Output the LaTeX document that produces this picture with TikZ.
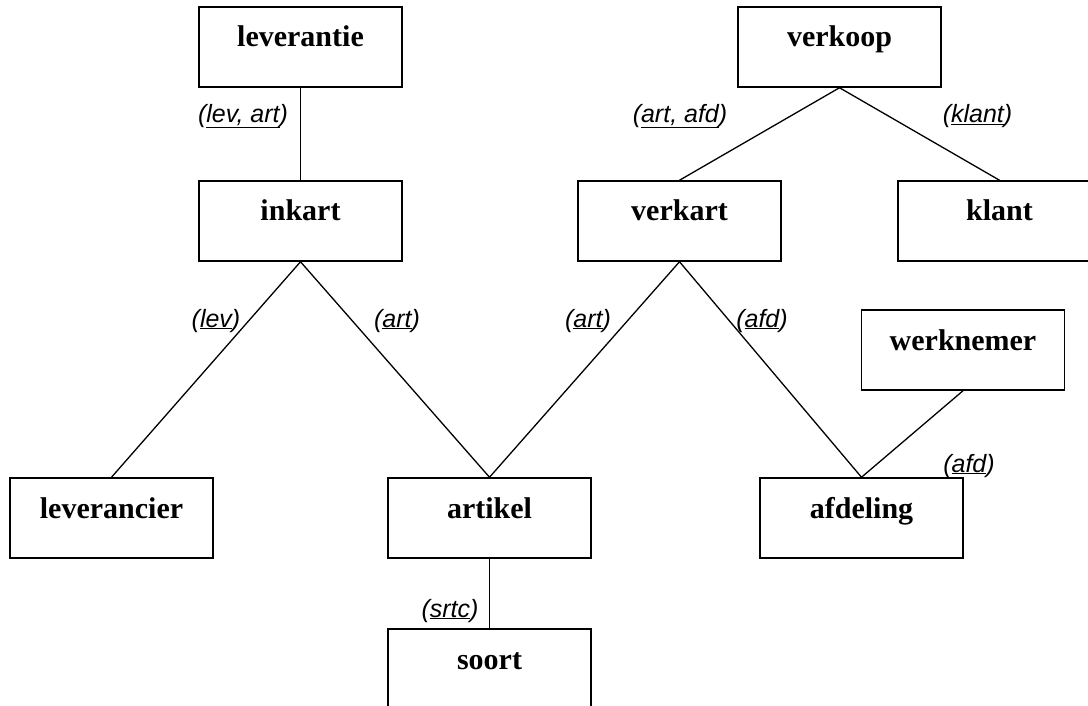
\documentclass[tikz,border=0pt]{standalone}
\usepackage{fontspec}
\setmainfont{Liberation Serif}
\newfontfamily\keyfont{Liberation Sans}
\usepackage{tikz}
\tikzset{
  entbox/.style={rectangle, draw=black, line width=1.5pt,
                 minimum width=203pt, minimum height=80pt, inner sep=0pt,
                 text height=12pt, text depth=12pt,
                 font=\fontsize{30}{36}\selectfont\bfseries},
  keylabel/.style={anchor=base, inner sep=0pt,
                   font=\keyfont\fontsize{25}{29}\selectfont\itshape},
  link/.style={line width=1.3pt, color=black}
}

\begin{document}
\begin{tikzpicture}[x=1pt, y=-1pt]
  \useasboundingbox (0,0) rectangle (1088,706);
  \clip (0,0) rectangle (1088,706);

  \node[entbox] (leverantie)  at (300.5,47)  {leverantie};
  \node[entbox] (verkoop)     at (839.5,47)  {verkoop};
  \node[entbox] (inkart)      at (300.5,221) {inkart};
  \node[entbox] (verkart)     at (679.5,221) {verkart};
  \node[entbox] (klant)       at (999.5,221) {klant};
  \node[entbox] (werknemer)   at (963,350)   {werknemer};
  \node[entbox] (leverancier) at (111.5,518) {leverancier};
  \node[entbox] (artikel)     at (489.5,518) {artikel};
  \node[entbox] (afdeling)    at (861.5,518) {afdeling};
  \node[entbox] (soort)       at (489.5,669) {soort};

  \draw[link] (leverantie.south) -- (inkart.north);
  \draw[link] (verkoop.south) -- (verkart.north);
  \draw[link] (verkoop.south) -- (klant.north);
  \draw[link] (inkart.south) -- (leverancier.north);
  \draw[link] (inkart.south) -- (artikel.north);
  \draw[link] (verkart.south) -- (artikel.north);
  \draw[link] (verkart.south) -- (afdeling.north);
  \draw[link] (werknemer.south) -- (afdeling.north);
  \draw[link] (artikel.south) -- (soort.north);

  \node[keylabel] (kLevArt) at (243,123)   {(\underline{lev, art})};
  \node[keylabel] (kArtAfd) at (680,123)   {(\underline{art, afd})};
  \node[keylabel] (kKlant)  at (977.5,123) {(\underline{klant})};
  \node[keylabel] (kLev)    at (216,327)   {(\underline{lev})};
  \node[keylabel] (kArtIn)  at (397,327)   {(\underline{art})};
  \node[keylabel] (kArtVer) at (588,327)   {(\underline{art})};
  \node[keylabel] (kAfdVer) at (762,327)   {(\underline{afd})};
  \node[keylabel] (kAfdWn)  at (969,472)   {(\underline{afd})};
  \node[keylabel] (kSrtc)   at (450,617)   {(\underline{srtc})};
\end{tikzpicture}
\end{document}
